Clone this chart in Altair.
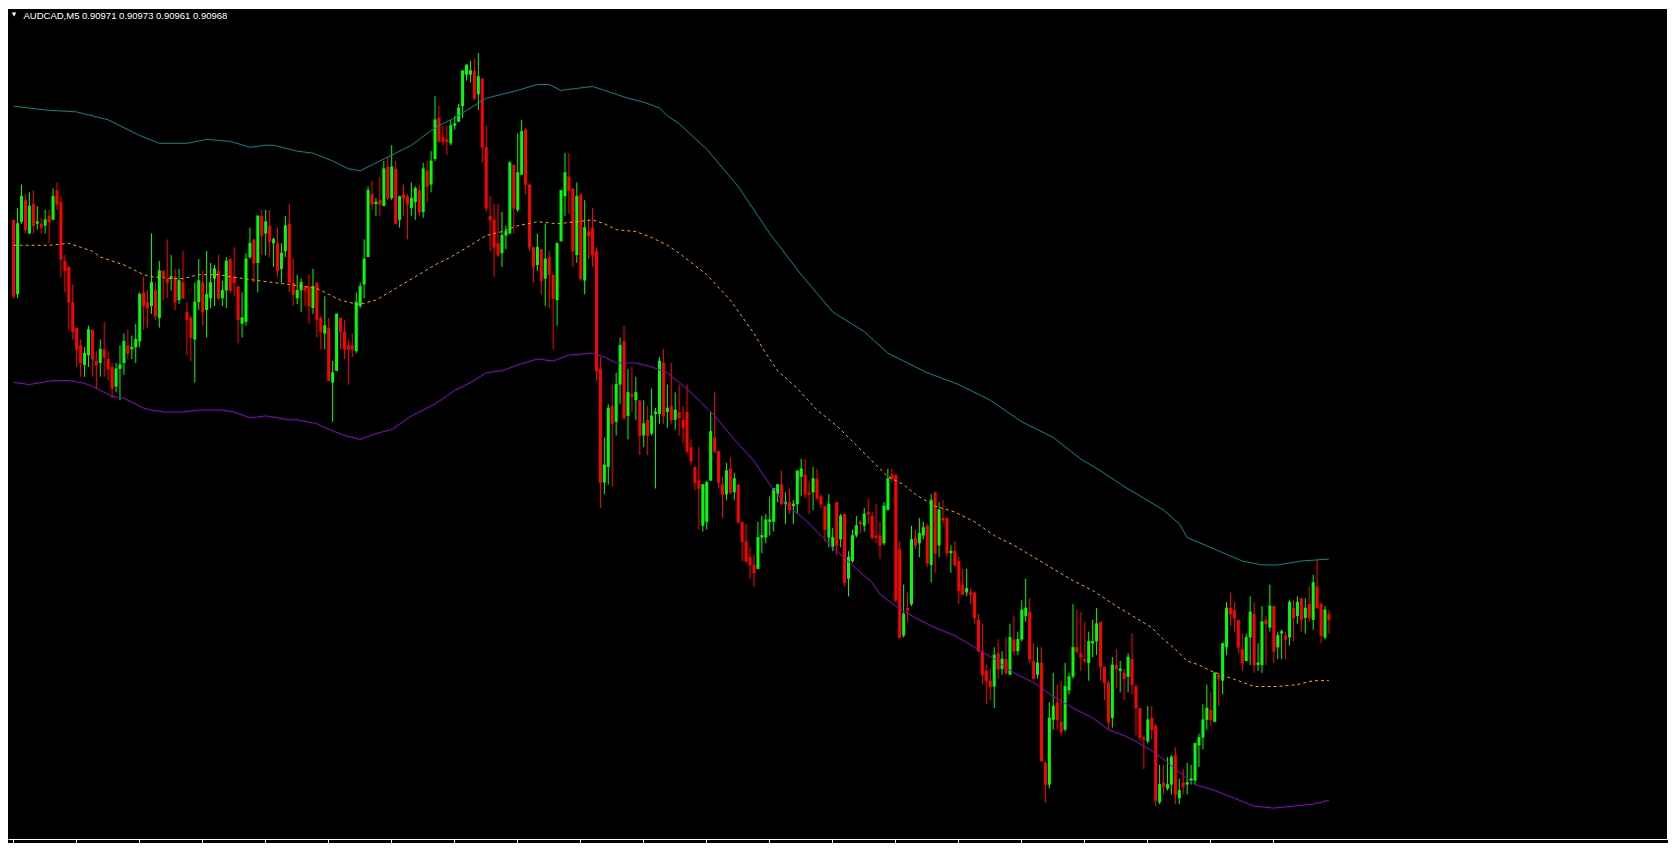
import altair as alt
import pandas as pd

# ---- AUDCAD M5 candles, prices in points (1 point = 0.00001) ----
open_pts = [
91172,91134,91171,91182,91165,91180,91170,91170,91169,91174,91172,91187,91181,91151,91148,91130,91117,91108,91098,91103,
91116,91100,91099,91106,91101,91097,91087,91096,91099,91108,91106,91107,91110,91135,91130,91128,91136,91122,91146,91142,
91142,91143,91131,91140,91125,91122,91111,91130,91140,91126,91132,91142,91146,91132,91136,91152,91143,91138,91119,91120,
91153,91162,91150,91174,91165,91169,91160,91160,91147,91156,91170,91140,91132,91136,91138,91138,91127,91140,91122,91114,
91117,91089,91095,91122,91115,91108,91108,91105,91128,91139,91153,91185,91180,91182,91179,91199,91183,91198,91172,91185,
91184,91178,91181,91187,91176,91197,91190,91203,91224,91214,91213,91211,91220,91222,91230,91246,91246,91248,91236,91244,
91209,91174,91172,91160,91155,91164,91165,91200,91177,91195,91218,91190,91158,91149,91157,91142,91153,91144,91131,91161,
91184,91194,91188,91154,91185,91141,91166,91168,91156,91096,91038,91046,91077,91069,91088,91110,91072,91083,91080,91080,
91062,91070,91063,91073,91073,91099,91074,91077,91070,91074,91070,91074,91056,91046,91039,91016,91018,91039,91061,91054,
91037,91032,91045,91033,91037,91018,91008,91000,90996,90994,91010,91010,91018,91018,91032,91037,91027,91028,91026,91027,
91041,91042,91033,91033,91040,91031,91026,91010,91005,91028,91009,91022,90989,90998,91011,91018,91016,91023,91021,91011,
91011,91007,91024,91042,91042,91004,90960,90974,90976,91010,91007,91011,91016,90996,91033,91006,91020,91020,91002,91003,
90998,90986,90982,90982,90982,90968,90952,90942,90937,90934,90951,90943,90948,90940,90958,90952,90958,90970,90972,90947,
90940,90946,90895,90884,90917,90926,90916,90912,90932,90939,90954,90951,90948,90946,90956,90957,90967,90944,90936,90918,
90945,90942,90941,90939,90948,90934,90923,90908,90906,90918,90914,90875,90885,90882,90884,90899,90877,90885,90884,90886,
90886,90904,90908,90917,90922,90916,90940,90937,90954,90974,90973,90968,90953,90947,90959,90971,90945,90945,90968,90964,
90975,90954,90961,90960,90959,90974,90970,90979,90969,90976,90968,90985,90976,90959,90971]
high_pts = [
91172,91178,91190,91185,91186,91187,91179,91173,91177,91177,91188,91191,91184,91154,91148,91139,91117,91111,91107,91118,
91116,91105,91111,91120,91105,91099,91099,91108,91114,91116,91113,91119,91135,91143,91136,91165,91140,91151,91146,91162,
91154,91147,91147,91156,91130,91123,91140,91152,91146,91156,91150,91149,91154,91141,91153,91152,91158,91138,91135,91155,
91168,91162,91174,91177,91177,91177,91163,91168,91160,91174,91180,91152,91144,91142,91138,91144,91147,91140,91123,91133,
91122,91100,91124,91122,91121,91111,91114,91135,91140,91162,91189,91192,91183,91194,91202,91204,91210,91202,91184,91190,
91185,91191,91189,91190,91201,91202,91207,91235,91230,91220,91220,91223,91225,91231,91248,91251,91253,91254,91257,91244,
91220,91184,91180,91180,91176,91169,91202,91200,91216,91223,91219,91190,91158,91165,91157,91170,91156,91144,91160,91187,
91206,91206,91188,91191,91185,91182,91172,91178,91158,91102,91061,91078,91088,91094,91112,91118,91096,91097,91092,91080,
91080,91077,91086,91076,91102,91106,91088,91099,91084,91088,91077,91088,91060,91046,91056,91037,91039,91074,91084,91054,
91041,91048,91051,91043,91037,91018,91017,91005,91001,91018,91021,91022,91031,91035,91037,91044,91033,91035,91029,91044,
91050,91050,91039,91046,91045,91032,91026,91032,91015,91028,91022,91022,91003,91014,91021,91019,91025,91030,91023,91027,
91018,91028,91045,91045,91042,91008,90986,90982,91016,91014,91020,91018,91017,91032,91033,91028,91029,91020,91006,91008,
91000,90994,90994,90984,90982,90971,90966,90945,90943,90954,90958,90952,90959,90966,90970,90962,90978,90989,90979,90956,
90954,90954,90896,90926,90941,90935,90937,90946,90941,90976,90973,90972,90967,90962,90968,90974,90967,90944,90937,90949,
90953,90947,90943,90951,90961,90935,90923,90909,90924,90924,90915,90894,90894,90898,90899,90903,90887,90892,90895,90894,
90905,90910,90925,90935,90931,90941,90941,90956,90977,90982,90977,90968,90961,90961,90980,90977,90956,90975,90970,90986,
90975,90962,90963,90962,90978,90978,90980,90979,90979,90985,90991,90999,90977,90975,90973]
low_pts = [
91132,91132,91170,91165,91165,91165,91167,91165,91165,91160,91172,91177,91143,91135,91116,91111,91097,91092,91092,91097,
91092,91086,91092,91092,91090,91081,91084,91080,91093,91101,91101,91099,91107,91116,91117,91124,91121,91117,91131,91132,
91136,91126,91129,91132,91103,91100,91089,91126,91118,91112,91127,91128,91131,91128,91127,91135,91133,91109,91112,91118,
91152,91140,91135,91154,91154,91153,91148,91143,91140,91153,91135,91128,91129,91125,91128,91119,91124,91112,91106,91106,
91090,91069,91095,91106,91101,91088,91102,91104,91127,91132,91153,91177,91174,91174,91179,91182,91182,91170,91168,91174,
91162,91174,91172,91174,91173,91181,91186,91202,91212,91210,91205,91210,91218,91222,91224,91243,91242,91233,91228,91201,
91176,91156,91143,91153,91148,91157,91165,91165,91176,91195,91185,91156,91140,91146,91134,91128,91127,91106,91118,91161,
91174,91175,91148,91150,91141,91134,91152,91148,91090,91025,91032,91037,91036,91062,91078,91070,91060,91074,91070,91052,
91056,91052,91062,91035,91068,91068,91066,91068,91065,91062,91058,91053,91047,91034,91014,91013,91014,91039,91053,91035,
91020,91029,91032,91029,91017,90998,90997,90989,90985,90994,91002,91007,91011,91013,91028,91027,91017,91022,91017,91022,
91031,91030,91022,91024,91029,91025,91008,91005,91003,91001,91005,90985,90980,90997,91010,91012,91013,91017,91009,91007,
90999,91006,91024,91038,90977,90959,90959,90967,90975,91004,91000,91009,90995,90987,90992,91000,91017,91000,90992,90995,
90976,90981,90980,90976,90966,90952,90935,90925,90927,90923,90938,90940,90940,90940,90950,90950,90957,90967,90946,90938,
90938,90896,90875,90882,90912,90912,90909,90911,90930,90938,90951,90942,90946,90937,90949,90950,90937,90927,90912,90913,
90933,90931,90927,90931,90930,90909,90906,90892,90905,90907,90873,90874,90879,90881,90879,90874,90874,90879,90879,90884,
90884,90893,90902,90912,90914,90916,90924,90930,90950,90965,90962,90951,90942,90947,90945,90941,90942,90941,90945,90962,
90946,90948,90948,90948,90955,90957,90966,90962,90961,90967,90963,90974,90956,90958,90961]
close_pts = [
91133,91170,91184,91167,91179,91169,91171,91168,91172,91171,91184,91180,91152,91146,91130,91115,91106,91099,91104,91116,
91101,91098,91106,91102,91096,91086,91096,91098,91110,91104,91107,91111,91134,91128,91127,91140,91123,91146,91143,91140,
91143,91130,91141,91132,91121,91112,91130,91141,91125,91134,91140,91147,91132,91136,91151,91136,91140,91121,91122,91152,
91160,91150,91174,91164,91171,91161,91162,91146,91155,91169,91140,91134,91136,91140,91136,91128,91138,91121,91115,91118,
91090,91094,91124,91115,91106,91106,91106,91130,91138,91152,91187,91180,91181,91180,91198,91183,91199,91170,91184,91183,
91180,91183,91188,91176,91198,91189,91202,91223,91212,91212,91212,91220,91221,91229,91248,91251,91248,91234,91245,91209,
91178,91172,91158,91154,91164,91166,91201,91178,91196,91217,91190,91158,91148,91158,91141,91152,91144,91132,91160,91187,
91196,91187,91156,91184,91142,91168,91164,91154,91095,91038,91047,91076,91068,91088,91108,91071,91084,91082,91084,91062,
91068,91062,91072,91074,91100,91072,91076,91070,91075,91071,91066,91054,91049,91038,91035,91037,91038,91064,91054,91038,
91032,91044,91033,91040,91018,91008,90998,90996,90992,91010,91011,91019,91019,91035,91037,91027,91028,91024,91027,91044,
91045,91032,91032,91040,91030,91027,91014,91027,91010,91006,91021,90987,91000,91011,91016,91017,91022,91022,91010,91010,
91006,91026,91040,91040,90978,90959,90971,90973,91009,91006,91012,91015,90997,91029,91002,91024,91019,91002,91003,90996,
90983,90981,90984,90981,90969,90952,90940,90937,90934,90950,90943,90948,90941,90959,90952,90958,90973,90974,90948,90938,
90946,90896,90884,90918,90924,90917,90911,90934,90939,90954,90952,90949,90947,90957,90957,90966,90944,90936,90916,90945,
90943,90943,90938,90949,90935,90923,90908,90907,90917,90912,90876,90884,90883,90884,90898,90879,90881,90883,90885,90887,
90905,90908,90917,90923,90917,90941,90938,90956,90974,90971,90969,90954,90946,90959,90972,90945,90946,90967,90966,90975,
90952,90960,90962,90958,90977,90969,90977,90968,90974,90969,90987,90974,90960,90973,90968]

# ---- envelope / band indicator, read at sample bars ----
upper_bar = [0,8,16,24,32,37,44,49,55,60,64,66,72,76,81,85,88,92,97,101,105,108,112,120,128,133,136,139,143,147,
             150,156,160,164,166,169,176,184,192,200,208,216,222,226,232,240,248,256,264,271,276,282,287,292,296,
             298,305,312,317,321,327,334]
upper_pts = [91230,91228,91227,91223,91215,91211,91211,91213,91212,91209,91210,91210,91207,91206,91202,91198,91197,
             91201,91206,91210,91216,91220,91224,91234,91238,91241,91241,91238,91239,91240,91238,91234,91232,91229,
             91225,91221,91208,91189,91165,91144,91125,91115,91104,91100,91094,91088,91080,91069,91061,91050,91044,
             91036,91030,91024,91017,91010,91004,90998,90996,90996,90998,90999]
mid_bar = [0,9,14,17,20,22,25,28,30,33,35,40,43,47,52,55,62,70,74,77,80,83,87,88,92,97,102,107,111,116,120,124,128,
           133,138,143,147,150,153,158,162,166,169,176,182,188,191,194,199,204,209,214,219,222,226,229,234,239,244,
           249,254,259,264,269,274,280,285,289,292,295,298,301,304,308,311,315,318,321,326,330,334]
mid_pts = [91159,91159,91160,91158,91156,91153,91151,91149,91147,91144,91143,91142,91142,91144,91144,91143,91141,
           91139,91138,91137,91134,91131,91129,91129,91131,91137,91143,91149,91153,91159,91164,91166,91169,91171,
           91170,91171,91172,91170,91167,91166,91163,91159,91155,91144,91131,91114,91104,91095,91086,91075,91067,
           91057,91047,91041,91037,91032,91026,91023,91018,91011,91006,91000,90994,90988,90983,90975,90969,90964,
           90958,90953,90947,90945,90942,90939,90937,90934,90934,90934,90935,90937,90937]
lower_bar = [0,4,7,10,14,17,19,22,25,28,30,33,35,38,43,47,53,56,60,64,70,72,77,79,84,88,92,96,101,107,112,116,120,
             124,128,133,137,141,147,150,153,158,162,166,169,172,178,183,188,192,196,201,206,209,214,218,220,224,229,
             234,239,244,249,254,259,264,269,274,278,282,285,290,295,300,305,310,315,320,325,330,334]
lower_pts = [91089,91088,91089,91090,91090,91089,91088,91085,91082,91081,91079,91076,91075,91074,91074,91075,91075,
             91074,91071,91072,91070,91070,91068,91066,91062,91060,91063,91065,91072,91078,91085,91089,91094,91095,
             91098,91101,91100,91103,91104,91102,91099,91099,91097,91094,91089,91084,91072,91060,91049,91037,91027,
             91019,91009,91003,90994,90987,90981,90975,90969,90964,90960,90954,90948,90941,90936,90929,90923,90918,
             90912,90909,90906,90900,90892,90884,90881,90877,90873,90872,90873,90874,90876]

title_text = "AUDCAD,M5  0.90971 0.90973 0.90961 0.90968"

# ---- layout ----
W, H = 1660, 831
x_domain = [-0.1675, 418.8325]
y_domain = [0.9085625, 0.91280]
tick_positions = [round((64 * k - 0.67) / 4, 4) for k in range(21)]

n = len(open_pts)
o = [v / 1e5 for v in open_pts]
c = [v / 1e5 for v in close_pts]
h = [max(a, b, d) / 1e5 for a, b, d in zip(high_pts, open_pts, close_pts)]
l = [min(a, b, d) / 1e5 for a, b, d in zip(low_pts, open_pts, close_pts)]
df = pd.DataFrame({
    "bar": list(range(n)), "open": o, "high": h, "low": l, "close": c,
    "dir": ["up" if cc > oo else "down" for oo, cc in zip(open_pts, close_pts)],
})

def band_df(bars, pts):
    return pd.DataFrame({"bar": bars, "price": [v / 1e5 for v in pts]})

xs = alt.Scale(domain=x_domain, nice=False, zero=False)
ys = alt.Scale(domain=y_domain, nice=False, zero=False)
x_axis = alt.Axis(values=tick_positions, labels=False, title=None, grid=False,
                  domainColor="#FFFFFF", tickColor="#FFFFFF", tickSize=4,
                  domainWidth=1, tickWidth=1, orient="bottom")
X = alt.X("bar:Q", scale=xs, axis=x_axis)
col = alt.Color("dir:N", scale=alt.Scale(domain=["up", "down"], range=["#00FF00", "#FF0000"]), legend=None)

wicks = alt.Chart(df).mark_rule(strokeWidth=1).encode(
    x=X, y=alt.Y("low:Q", scale=ys, axis=None), y2="high:Q", color=col)
bodies = alt.Chart(df).mark_bar(size=3).encode(
    x=X, y=alt.Y("open:Q", scale=ys, axis=None), y2="close:Q", color=col)
flat = alt.Chart(df).mark_tick(orient="horizontal", size=3, thickness=1).encode(
    x=X, y=alt.Y("close:Q", scale=ys, axis=None), color=col)

upper = alt.Chart(band_df(upper_bar, upper_pts)).mark_line(color="#008B8B", strokeWidth=1).encode(
    x=X, y=alt.Y("price:Q", scale=ys, axis=None))
mid = alt.Chart(band_df(mid_bar, mid_pts)).mark_line(color="#FFA500", strokeWidth=1, strokeDash=[3, 3]).encode(
    x=X, y=alt.Y("price:Q", scale=ys, axis=None))
lower = alt.Chart(band_df(lower_bar, lower_pts)).mark_line(color="#9400D3", strokeWidth=1).encode(
    x=X, y=alt.Y("price:Q", scale=ys, axis=None))

one = pd.DataFrame({"t": [title_text]})
frame_top = alt.Chart(one).mark_rule(color="#FFFFFF", strokeWidth=1).encode(
    x=alt.value(0), x2=alt.value(W), y=alt.value(0.5))
frame_right = alt.Chart(one).mark_rule(color="#FFFFFF", strokeWidth=1).encode(
    x=alt.value(W - 0.5), y=alt.value(0), y2=alt.value(H))
tri = alt.Chart(one).mark_point(shape="triangle-down", filled=True, color="#FFFFFF",
                                size=22, opacity=1, strokeWidth=0).encode(
    x=alt.value(6), y=alt.value(6.5))
title = alt.Chart(one).mark_text(align="left", baseline="middle", font="Liberation Sans",
                                 fontSize=9.5, color="#FFFFFF").encode(
    x=alt.value(15.5), y=alt.value(7.8), text="t:N")

chart = alt.layer(wicks, bodies, flat, upper, mid, lower, frame_top, frame_right, tri, title).properties(
    width=W, height=H, background="#000000",
    autosize=alt.AutoSizeParams(type="none"),
    padding={"left": 0, "top": 0, "right": 0, "bottom": 4},
).configure_view(strokeWidth=0).configure_axis(grid=False)

chart.save("out.html", embed_options={"renderer": "svg", "actions": False})
